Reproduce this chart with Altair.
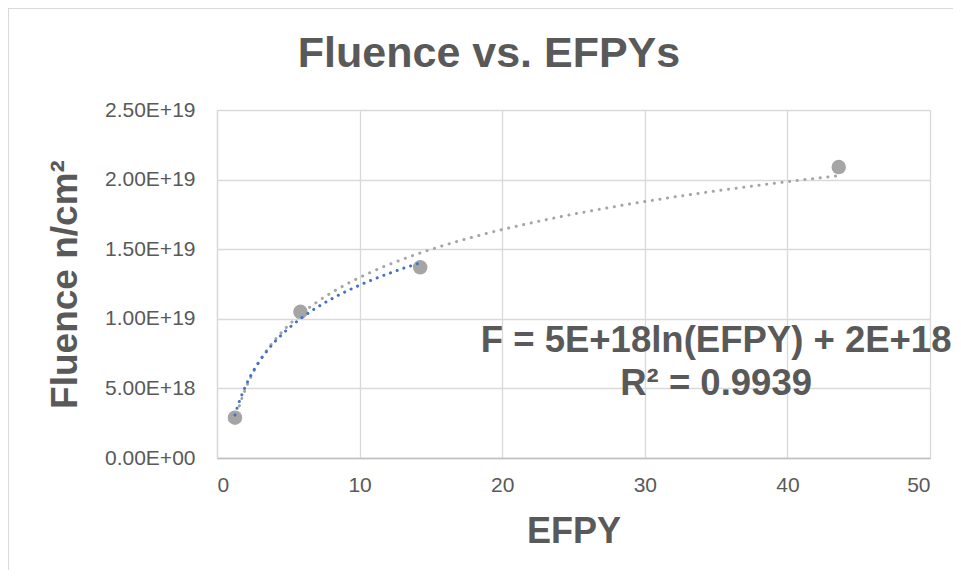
import altair as alt
import pandas as pd

# Data
efpy = [1.26, 5.85, 14.25, 43.6]
fluence = [2.9e18, 1.05e19, 1.37e19, 2.09e19]
x_ticks = [0, 10, 20, 30, 40, 50]
y_ticks = [0, 5e18, 1e19, 1.5e19, 2e19, 2.5e19]
chart_title = ["Fluence vs. EFPYs"]
ann_lines = ["F = 5E+18ln(EFPY) + 2E+18", "R² = 0.9939"]
ann_x = [35.0, 35.0]
ann_y = [7.6e18, 4.5e18]

df = pd.DataFrame({"EFPY": efpy, "Fluence": fluence})
df_first3 = df.iloc[:3]
ann = pd.DataFrame({"x": ann_x, "y": ann_y, "t": ann_lines})
title_df = pd.DataFrame({"t": chart_title})

FONT = "Liberation Sans"
TXT = "#595959"
GRID = "#d9d9d9"

xscale = alt.Scale(domain=[0, 50], nice=False, zero=False)
yscale = alt.Scale(domain=[0, 2.5e19], nice=False)

xaxis = alt.Axis(
    values=x_ticks, title="EFPY", grid=True, gridColor=GRID, gridWidth=1.3,
    ticks=False, domainColor="#bfbfbf", domainWidth=1.3,
    labelFont=FONT, labelFontSize=21, labelColor=TXT, labelPadding=16,
    titleFont=FONT, titleFontSize=36, titleFontWeight="bold", titleColor=TXT,
    titleY=84, titleBaseline="alphabetic",
)
yaxis = alt.Axis(
    values=y_ticks, title="Fluence n/cm²", grid=True, gridColor=GRID, gridWidth=1.3,
    ticks=False, domainColor=GRID, domainWidth=1.3,
    labelFont=FONT, labelFontSize=21, labelColor=TXT, labelPadding=22,
    labelExpr="datum.value == 0 ? '0.00E+00' : replace(format(datum.value, '.2e'), 'e', 'E')",
    titleFont=FONT, titleFontSize=37, titleFontWeight="bold", titleColor=TXT,
    titleX=-141, titleY=174, titleAngle=270, titleBaseline="alphabetic", titleAlign="center",
)

base = alt.Chart(df)

points = base.mark_circle(size=210, color="#a5a5a5", opacity=1).encode(
    x=alt.X("EFPY:Q", scale=xscale, axis=xaxis),
    y=alt.Y("Fluence:Q", scale=yscale, axis=yaxis),
)

trend_all = base.transform_regression(
    "EFPY", "Fluence", method="log"
).mark_line(
    color="#a5a5a5", strokeWidth=3, strokeDash=[0.1, 7.6], strokeCap="round"
).encode(x=alt.X("EFPY:Q", scale=xscale), y=alt.Y("Fluence:Q", scale=yscale))

trend_3 = alt.Chart(df_first3).transform_regression(
    "EFPY", "Fluence", method="log"
).mark_line(
    color="#4472c4", strokeWidth=3, strokeDash=[0.1, 7.0], strokeCap="round"
).encode(x=alt.X("EFPY:Q", scale=xscale), y=alt.Y("Fluence:Q", scale=yscale))

labels = alt.Chart(ann).mark_text(
    font=FONT, fontSize=36.5, fontWeight="bold", color=TXT, align="center", baseline="alphabetic"
).encode(x=alt.X("x:Q", scale=xscale), y=alt.Y("y:Q", scale=yscale), text="t:N")

title_mark = alt.Chart(title_df).mark_text(
    font=FONT, fontSize=43, fontWeight="bold", color=TXT, align="center", baseline="alphabetic"
).encode(x=alt.value(272), y=alt.value(-43), text="t:N")

frame_v = alt.Chart(df).mark_rule(color=GRID, strokeWidth=1.5).encode(
    x=alt.value(-209), y=alt.value(-102), y2=alt.value(560)
)
frame_h = alt.Chart(df).mark_rule(color=GRID, strokeWidth=1.5).encode(
    x=alt.value(-209), x2=alt.value(760), y=alt.value(-102)
)

chart = alt.layer(points, trend_all, trend_3, labels, title_mark, frame_v, frame_h).properties(
    width=713, height=348,
    autosize=alt.AutoSizeParams(type="none"),
    padding={"left": 209, "top": 102, "right": 23, "bottom": 112},
).configure_view(stroke=None).configure(background="white")

chart.save("out.html", embed_options={"renderer": "svg", "actions": False})
